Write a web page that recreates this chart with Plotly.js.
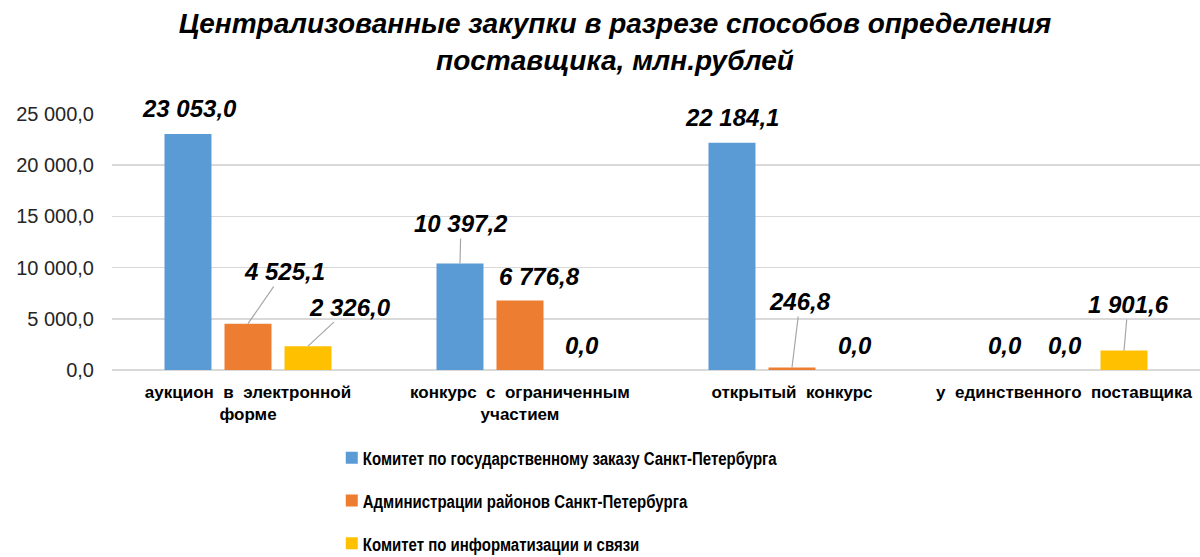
<!DOCTYPE html>
<html>
<head>
<meta charset="utf-8">
<script src="https://cdn.plot.ly/plotly-3.0.1.min.js"></script>
<style>html,body{margin:0;padding:0;background:#fff;}#chart{width:1200px;height:557px;}</style>
</head>
<body>
<div id="chart"></div>
<script>
const categories = ["аукцион в электронной форме", "конкурс с ограниченным участием", "открытый конкурс", "у единственного поставщика"];
const tickLabels = ["аукцион\u00a0 в\u00a0 электронной<br>форме", "конкурс\u00a0 с\u00a0 ограниченным<br>участием", "открытый\u00a0 конкурс", "у\u00a0 единственного\u00a0 поставщика"];
const seriesNames = ["Комитет по государственному заказу Санкт-Петербурга", "Администрации районов Санкт-Петербурга", "Комитет по информатизации и связи"];
const committeeValues = [23053.0, 10397.2, 22184.1, 0.0];
const districtValues = [4525.1, 6776.8, 246.8, 0.0];
const informValues = [2326.0, 0.0, 0.0, 1901.6];

const colors = ["#5B9BD5", "#ED7D31", "#FFC000"];
const allSeries = [committeeValues, districtValues, informValues];
// label offsets in pixels [ax, ay, showLeader] per series per category (style)
const labelOffsets = [
  [[2,-25,false],[1,-40,true],[0,-25,false],[1,-25,false]],
  [[36,-52,true],[19,-24,false],[8,-66,true],[1,-25,false]],
  [[42,-39,true],[2,-25,false],[3,-25,false],[4,-46,true]]
];

function fmt(v){
  const s = v.toFixed(1).split('.');
  const intPart = s[0].replace(/\B(?=(\d{3})+(?!\d))/g, ' ');
  return intPart + ',' + s[1];
}

const bargap = 0.338;
const nSeries = 3;
const slot = (1 - bargap) / nSeries;

const traces = allSeries.map((vals, i) => ({
  type: 'bar',
  name: seriesNames[i],
  x: categories,
  y: vals,
  marker: {color: colors[i]},
  legendgroup: 'g' + i,
  hoverinfo: 'y'
}));

const annotations = [];
allSeries.forEach((vals, i) => {
  vals.forEach((v, j) => {
    const off = labelOffsets[i][j];
    annotations.push({
      x: j + (i - 1) * slot,
      y: v,
      xref: 'x', yref: 'y',
      text: fmt(v),
      showarrow: true,
      arrowhead: 0,
      arrowwidth: 1.2,
      arrowcolor: off[2] ? '#a6a6a6' : 'rgba(0,0,0,0)',
      ax: off[0], ay: off[1],
      standoff: 0,
      font: {family: 'Liberation Sans, Arial, sans-serif', size: 24, color: '#000', weight: 'bold', style: 'italic'}
    });
  });
});

const layout = {
  width: 1200, height: 557,
  paper_bgcolor: '#fff', plot_bgcolor: '#fff',
  margin: {l: 112, r: 0, t: 114, b: 187},
  title: {
    text: '<b><i>Централизованные закупки в разрезе способов определения<br>поставщика, млн.рублей</i></b>',
    x: 0.5125, xanchor: 'center', yref: 'container', y: 0.94, yanchor: 'top',
    font: {family: 'Liberation Sans, Arial, sans-serif', size: 28, color: '#000'}
  },
  separators: ', ',
  barmode: 'group',
  bargap: bargap,
  bargroupgap: 0.217,
  xaxis: {
    type: 'category',
    tickvals: categories, ticktext: tickLabels,
    tickangle: 0,
    tickfont: {family: 'Liberation Sans, Arial, sans-serif', size: 17, color: '#000', weight: 'bold'},
    showgrid: false, zeroline: false, showline: false,
    ticks: '', ticklabelstandoff: 10, fixedrange: true
  },
  yaxis: {
    range: [0, 25000],
    dtick: 5000,
    tickformat: ',.1f',
    tickfont: {family: 'Liberation Sans, Arial, sans-serif', size: 20, color: '#262626'},
    showgrid: true, gridcolor: '#d9d9d9', gridwidth: 1.5,
    zeroline: true, zerolinecolor: '#d9d9d9', zerolinewidth: 1.5,
    showline: false, ticks: '', ticklabelstandoff: 17, fixedrange: true
  },
  showlegend: true,
  legend: {
    orientation: 'v',
    xref: 'paper', yref: 'container',
    x: 0.202, xanchor: 'left',
    y: 0.212, yanchor: 'top',
    traceorder: 'grouped',
    tracegroupgap: 15,
    font: {family: 'Liberation Sans, Arial, sans-serif', size: 19, color: '#000', weight: 'bold'},
    bgcolor: 'rgba(0,0,0,0)'
  },
  annotations: annotations
};

// Condense the legend text horizontally to imitate the narrow legend face.
const legendSqueeze = 0.79;
const legendTextX = 31;
Plotly.newPlot('chart', traces, layout, {displayModeBar: false, staticPlot: true}).then(gd => {
  gd.querySelectorAll('.legend .legendtext').forEach(t => {
    const x0 = parseFloat(t.getAttribute('x')) || 40;
    const tx = legendTextX - x0 * legendSqueeze;
    t.setAttribute('transform', 'translate(' + tx + ',0) scale(' + legendSqueeze + ',1)');
  });
});
</script>
</body>
</html>
